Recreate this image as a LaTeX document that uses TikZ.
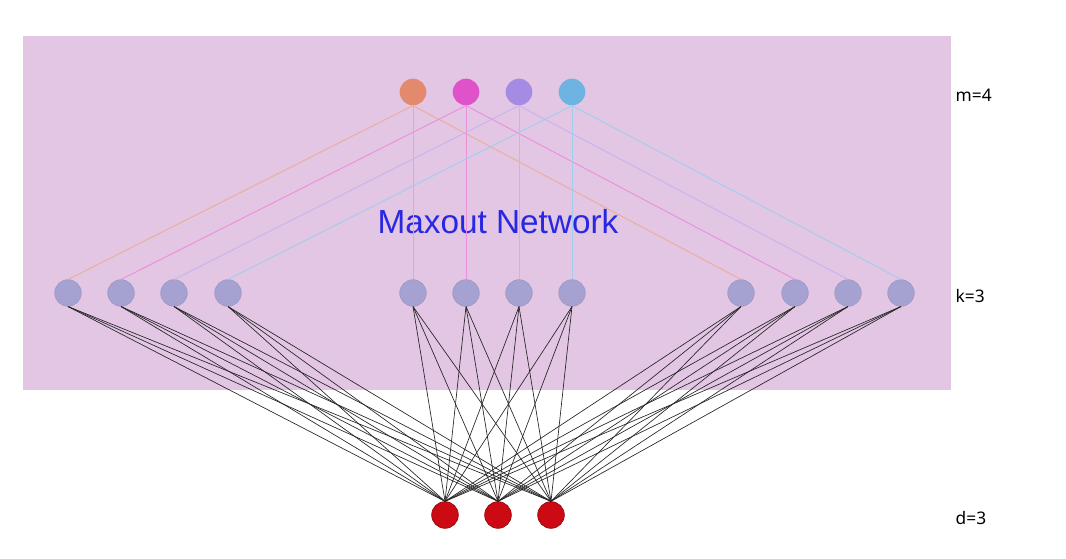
\documentclass[tikz,border=0pt]{standalone}
\usepackage{fontspec}
\setmainfont{Liberation Sans}
\newfontfamily\labelfont{Noto Sans}
\usepackage{tikz}

\definecolor{bgpink}{HTML}{E2C6E4}
\definecolor{unitgray}{HTML}{A5A2D2}
\definecolor{outorange}{HTML}{E38A6E}
\definecolor{outpink}{HTML}{E052C9}
\definecolor{outpurple}{HTML}{A58BE3}
\definecolor{outblue}{HTML}{6FB3E2}
\definecolor{inred}{HTML}{CC0A14}
\definecolor{titleblue}{HTML}{2828E2}

\tikzset{
	unit/.style={shape=circle,minimum size=20pt,inner sep=0pt},
	hidden/.style={unit,fill=unitgray,draw=unitgray!90!black,line width=0.3pt},
	input/.style={unit,fill=inred,draw=inred!75!black,line width=0.5pt},
	wire/.style={draw=black!85,line width=0.5pt},
	sizelabel/.style={anchor=west,font=\labelfont\fontsize{13}{15}\selectfont}
}

\begin{document}
\begin{tikzpicture}[x=0.75pt,y=-0.75pt]
	\useasboundingbox (0,0) rectangle (1066,559);
	\fill[bgpink] (23,36) rectangle (951,390);

	\node[unit,fill=outorange] (m1) at (413, 92) {};
	\node[unit,fill=outpink]   (m2) at (466, 92) {};
	\node[unit,fill=outpurple] (m3) at (519, 92) {};
	\node[unit,fill=outblue]   (m4) at (572, 92) {};

	\node[hidden] (k1)  at (68, 293)  {};
	\node[hidden] (k2)  at (121, 293) {};
	\node[hidden] (k3)  at (174, 293) {};
	\node[hidden] (k4)  at (228, 293) {};
	\node[hidden] (k5)  at (413, 293) {};
	\node[hidden] (k6)  at (466, 293) {};
	\node[hidden] (k7)  at (519, 293) {};
	\node[hidden] (k8)  at (572, 293) {};
	\node[hidden] (k9)  at (741, 293) {};
	\node[hidden] (k10) at (795, 293) {};
	\node[hidden] (k11) at (848, 293) {};
	\node[hidden] (k12) at (901, 293) {};

	\node[input] (d1) at (445, 515) {};
	\node[input] (d2) at (498, 515) {};
	\node[input] (d3) at (551, 515) {};

	\node[text=titleblue,font=\fontsize{25}{30}\selectfont] (title) at (498, 222) {Maxout Network};

	\node[sizelabel] (lm) at (951, 95)  {m=4};
	\node[sizelabel] (lk) at (951, 296) {k=3};
	\node[sizelabel] (ld) at (951, 518) {d=3};

	% maxout units to their pieces
	\path[-,draw=outorange!70,line width=0.7pt] (m1.south) edge (k1.north) edge (k5.north) edge (k9.north);
	\path[-,draw=outpink!65,line width=0.7pt]   (m2.south) edge (k2.north) edge (k6.north) edge (k10.north);
	\path[-,draw=outpurple!65,line width=0.7pt] (m3.south) edge (k3.north) edge (k7.north) edge (k11.north);
	\path[-,draw=outblue!65,line width=0.7pt]   (m4.south) edge (k4.north) edge (k8.north) edge (k12.north);

	% pieces to inputs
	\path[-,wire] (k1.south)  edge (d1.north) edge (d2.north) edge (d3.north);
	\path[-,wire] (k2.south)  edge (d1.north) edge (d2.north) edge (d3.north);
	\path[-,wire] (k3.south)  edge (d1.north) edge (d2.north) edge (d3.north);
	\path[-,wire] (k4.south)  edge (d1.north) edge (d2.north) edge (d3.north);
	\path[-,wire] (k5.south)  edge (d1.north) edge (d2.north) edge (d3.north);
	\path[-,wire] (k6.south)  edge (d1.north) edge (d2.north) edge (d3.north);
	\path[-,wire] (k7.south)  edge (d1.north) edge (d2.north) edge (d3.north);
	\path[-,wire] (k8.south)  edge (d1.north) edge (d2.north) edge (d3.north);
	\path[-,wire] (k9.south)  edge (d1.north) edge (d2.north) edge (d3.north);
	\path[-,wire] (k10.south) edge (d1.north) edge (d2.north) edge (d3.north);
	\path[-,wire] (k11.south) edge (d1.north) edge (d2.north) edge (d3.north);
	\path[-,wire] (k12.south) edge (d1.north) edge (d2.north) edge (d3.north);
\end{tikzpicture}
\end{document}
